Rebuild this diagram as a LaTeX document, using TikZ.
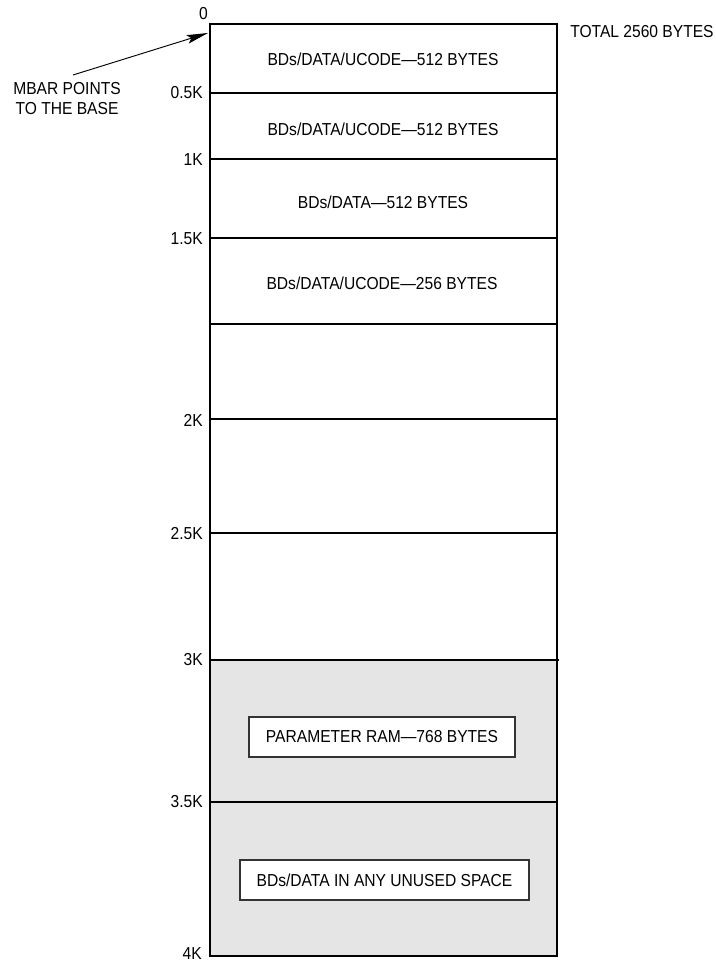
\documentclass[tikz,border=0pt]{standalone}
\usepackage{fontspec}
\setmainfont{Liberation Sans}[FakeStretch=0.9]
\usepackage{tikz}
\usetikzlibrary{positioning,arrows.meta}
\definecolor{ramgray}{HTML}{E5E5E5}
\tikzset{
	memline/.style={line width=1.5pt},
	addr/.style={anchor=east,inner sep=0pt,font=\fontsize{13}{15}\selectfont},
	region/.style={inner sep=0pt,font=\fontsize{13}{15}\selectfont},
	ramtag/.style={draw=black!80,line width=0.8pt,fill=white,minimum height=30pt,inner sep=0pt,font=\fontsize{13}{15}\selectfont}
}
\begin{document}
\begin{tikzpicture}[x=0.75pt,y=-0.75pt]
		\useasboundingbox (0,0) rectangle (715,962);
		
		% levels of the map
		\coordinate (T) at (210,24);
		\coordinate (TR) at (557,24);
		\coordinate (B) at (210,956);
		\coordinate (BR) at (557,956);
		\coordinate (L1) at (210,93);   \coordinate (R1) at (557,93);
		\coordinate (L2) at (210,159);  \coordinate (R2) at (557,159);
		\coordinate (L3) at (210,238);  \coordinate (R3) at (557,238);
		\coordinate (L4) at (210,324);  \coordinate (R4) at (557,324);
		\coordinate (L5) at (210,419);  \coordinate (R5) at (557,419);
		\coordinate (L6) at (210,533);  \coordinate (R6) at (557,533);
		\coordinate (L7) at (210,660);  \coordinate (R7) at (559,660);
		\coordinate (L8) at (210,802);  \coordinate (R8) at (557,802);
		
		\fill[ramgray] (L7) rectangle (BR);
		\draw[memline] (T)--(TR)--(BR)--(B)--cycle;
		\foreach \i in {1,...,8}
		\draw[memline] (L\i)--(R\i);
		
		% addresses
		\node[anchor=south east,inner sep=0pt,font=\fontsize{13}{15}\selectfont] (a0) at (208,20) {0};
		\node[addr] (a1) at (203,93) {0.5K};
		\node[addr] (a2) at (203,160) {1K};
		\node[addr] (a3) at (203,239) {1.5K};
		\node[addr] (a5) at (203,420) {2K};
		\node[addr] (a6) at (203,534) {2.5K};
		\node[addr] (a7) at (203,660) {3K};
		\node[addr] (a8) at (203,802) {3.5K};
		\node[addr] (a9) at (202,954) {4K};
		
		% contents
		\node[region] (r1) at (383,59) {BDs/DATA/UCODE\textemdash512 BYTES};
		\node[region] (r2) at (383,129) {BDs/DATA/UCODE\textemdash512 BYTES};
		\node[region] (r3) at (383,202) {BDs/DATA\textemdash512 BYTES};
		\node[region] (r4) at (382,283) {BDs/DATA/UCODE\textemdash256 BYTES};
		\node[ramtag,minimum width=199.5pt] (pram) at (382,737) {PARAMETER RAM\textemdash768 BYTES};
		\node[ramtag,minimum width=216.75pt] (spare) at (384.5,880) {BDs/DATA IN ANY UNUSED SPACE};
		
		\node[region,anchor=west] (total) at (570,32) {TOTAL 2560 BYTES};
		
		\node[region,align=center,anchor=north,font=\fontsize{13}{15}\selectfont] (mbar) at (67,82) {MBAR POINTS\\TO THE BASE};
		\coordinate (mbarfoot) at (73,75);
		\coordinate (base) at (208,33);
		\draw[-{Stealth[length=16pt,width=6.5pt,inset=3pt]},line width=0.7pt] (mbarfoot)--(base);
		
	\end{tikzpicture}
\end{document}
